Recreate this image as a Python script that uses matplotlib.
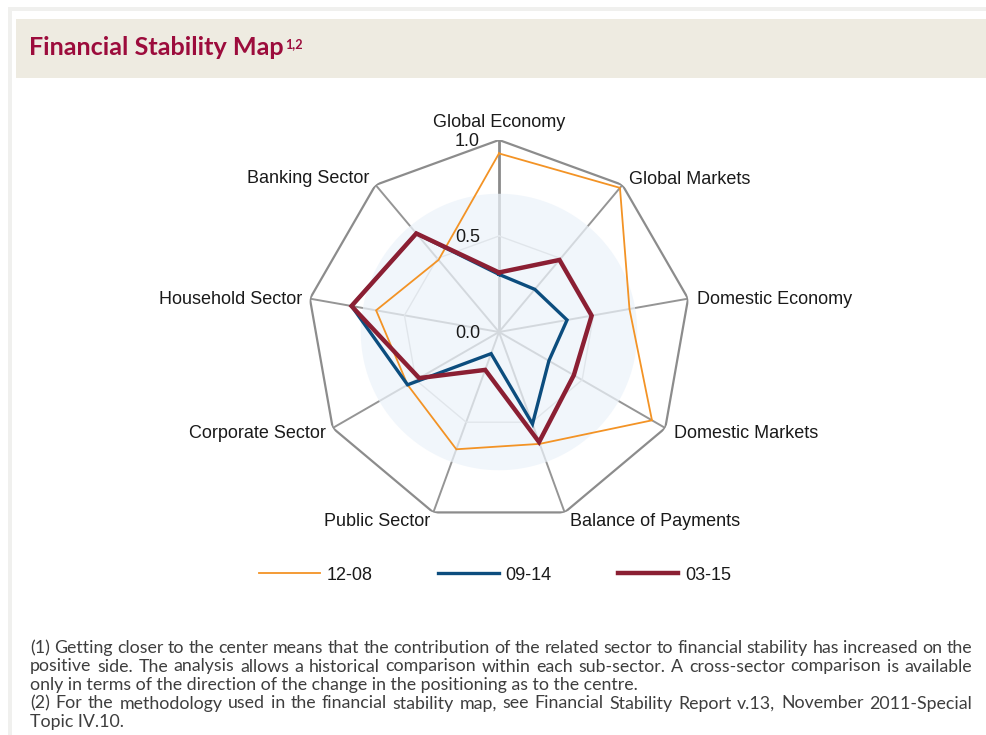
import numpy as np
import matplotlib
matplotlib.use("Agg")
import matplotlib.pyplot as plt
from matplotlib.patches import Rectangle
from matplotlib.lines import Line2D

# ---------------- data ----------------
categories = ["Global Economy", "Global Markets", "Domestic Economy", "Domestic Markets",
              "Balance of Payments", "Public Sector", "Corporate Sector",
              "Household Sector", "Banking Sector"]
series_names = ["12-08", "09-14", "03-15"]
values_1208 = [0.93, 0.98, 0.69, 0.92, 0.62, 0.65, 0.55, 0.65, 0.49]
values_0914 = [0.30, 0.29, 0.36, 0.30, 0.51, 0.12, 0.55, 0.78, 0.67]
values_0315 = [0.31, 0.49, 0.49, 0.45, 0.61, 0.21, 0.48, 0.78, 0.67]
radial_ticks = [0.0, 0.5, 1.0]
radial_labels = ["0.0", "0.5", "1.0"]

title = "Financial Stability Map"
title_sup = "1,2"
footnote_lines = [
    "(1) Getting closer to the center means that the contribution of the related sector to financial stability has increased on the",
    "positive side. The analysis allows a historical comparison within each sub-sector. A cross-sector comparison is available",
    "only in terms of the direction of the change in the positioning as to the centre.",
    "(2) For the methodology used in the financial stability map, see Financial Stability Report v.13, November 2011-Special",
    "Topic IV.10.",
]
justified = [True, True, False, True, False]

# ---------------- figure ----------------
W, H = 987, 735
fig = plt.figure(figsize=(W / 100, H / 100), dpi=100)
fig.patch.set_facecolor("white")
renderer = fig.canvas.get_renderer()


def fx(px):
    return px / W


def fy(py):
    return 1 - py / H


def text_width(s, **kw):
    t = fig.text(0, 0, s, **kw)
    w = t.get_window_extent(renderer=renderer).width
    t.remove()
    return w


# frame
fig.patches.append(Rectangle((fx(8), fy(11)), 1 - fx(8), 4 / H, transform=fig.transFigure,
                             facecolor="#f0f0ee", edgecolor="none", zorder=0))
fig.patches.append(Rectangle((fx(8), 0), 4 / W, fy(7), transform=fig.transFigure,
                             facecolor="#f0f0ee", edgecolor="none", zorder=0))
fig.patches.append(Rectangle((fx(16), fy(78)), 1 - fx(16), 59 / H, transform=fig.transFigure,
                             facecolor="#eeebe1", edgecolor="none", zorder=0))

# title
title_kw = dict(family="Lato", weight="bold", color="#9c0c3c")
tsize = 20 * 254 / text_width(title, fontsize=20, **title_kw)
fig.text(fx(29), fy(55), title, fontsize=tsize, va="baseline", ha="left", **title_kw)
tw = text_width(title, fontsize=tsize, **title_kw)
fig.text(fx(29 + tw + 2), fy(48), title_sup, fontsize=tsize * 0.5, va="baseline", ha="left",
         **title_kw)

# ---------------- radar ----------------
cx, cy, R = 499, 332, 192
ax = fig.add_axes([fx(cx - R), fy(cy + R), 2 * R / W, 2 * R / H], projection="polar")
ax.set_theta_zero_location("N")
ax.set_theta_direction(-1)
ax.set_ylim(0, 1)
ax.set_axis_off()

n = len(categories)
angles = np.arange(n) * 2 * np.pi / n
closed = np.append(angles, angles[0])

for i, a in enumerate(angles):
    ax.plot([a, a], [0, 1], color="#8a8a8a" if i == 0 else "#959595",
            lw=2.0 if i == 0 else 1.4, zorder=1, solid_capstyle="butt")
ax.plot(closed, [0.5] * (n + 1), color="#c4c4c4", lw=1.0, zorder=1)
ax.plot(closed, [1.0] * (n + 1), color="#8c8c8c", lw=1.6, zorder=1, solid_joinstyle="miter")

blob_t = np.linspace(0, 2 * np.pi, 241)
ax.fill(blob_t, np.full_like(blob_t, 0.72), color=(236 / 255, 243 / 255, 250 / 255),
        alpha=0.72, lw=0, zorder=2)

series = [values_1208, values_0914, values_0315]
colors = ["#f39325", "#0c4d7e", "#8b1f33"]
widths = [1.3, 2.4, 3.2]
handles = []
for k, (vals, col, lw) in enumerate(zip(series, colors, widths)):
    ax.plot(closed, list(vals) + [vals[0]], color=col, lw=lw, zorder=3 + k,
            solid_joinstyle="miter")
    handles.append(Line2D([0], [0], color=col, lw=lw))

lab_kw = dict(family="Liberation Sans", fontsize=13, color="#1a1a1a")
for r, lab in zip(radial_ticks, radial_labels):
    ax.annotate(lab, xy=(0, r), xytext=(-19, -6.5), textcoords="offset pixels",
                ha="right", va="baseline", zorder=10, **lab_kw)

label_offsets = [
    (0, 13, "center"),
    (7, 1, "left"),
    (9, -5, "left"),
    (9, -10, "left"),
    (5, -14, "left"),
    (-3, -14, "right"),
    (-7, -10, "right"),
    (-8, -5, "right"),
    (-6, 2, "right"),
]
for a, lab, (dx, dy, ha) in zip(angles, categories, label_offsets):
    ax.annotate(lab, xy=(a, 1.0), xytext=(dx, dy), textcoords="offset pixels",
                ha=ha, va="baseline", zorder=10, annotation_clip=False, **lab_kw)

# legend
fig.legend(handles, series_names, loc="center", bbox_to_anchor=(fx(495), fy(575)),
           ncol=3, frameon=False, handlelength=3.36, handletextpad=0.37,
           columnspacing=3.65, prop=dict(family="Liberation Sans", size=13),
           labelcolor="#1a1a1a")

# ---------------- footnotes ----------------
fn_kw = dict(family="Lato", color="#3e3e3e")
fsize = 12 * 940 / text_width(footnote_lines[0], fontsize=12, **fn_kw)
x0, x1 = 30, 972
baselines = [653, 671.5, 690, 708.5, 727]
for line, just, by in zip(footnote_lines, justified, baselines):
    if not just:
        fig.text(fx(x0), fy(by), line, fontsize=fsize, ha="left", va="baseline", **fn_kw)
        continue
    words = line.split(" ")
    ws = [text_width(w_, fontsize=fsize, **fn_kw) for w_ in words]
    gap = (x1 - x0 - sum(ws)) / (len(words) - 1)
    x = x0
    for w_, wd in zip(words, ws):
        fig.text(fx(x), fy(by), w_, fontsize=fsize, ha="left", va="baseline", **fn_kw)
        x += wd + gap

fig.savefig("out.png", dpi=100, facecolor="white")
